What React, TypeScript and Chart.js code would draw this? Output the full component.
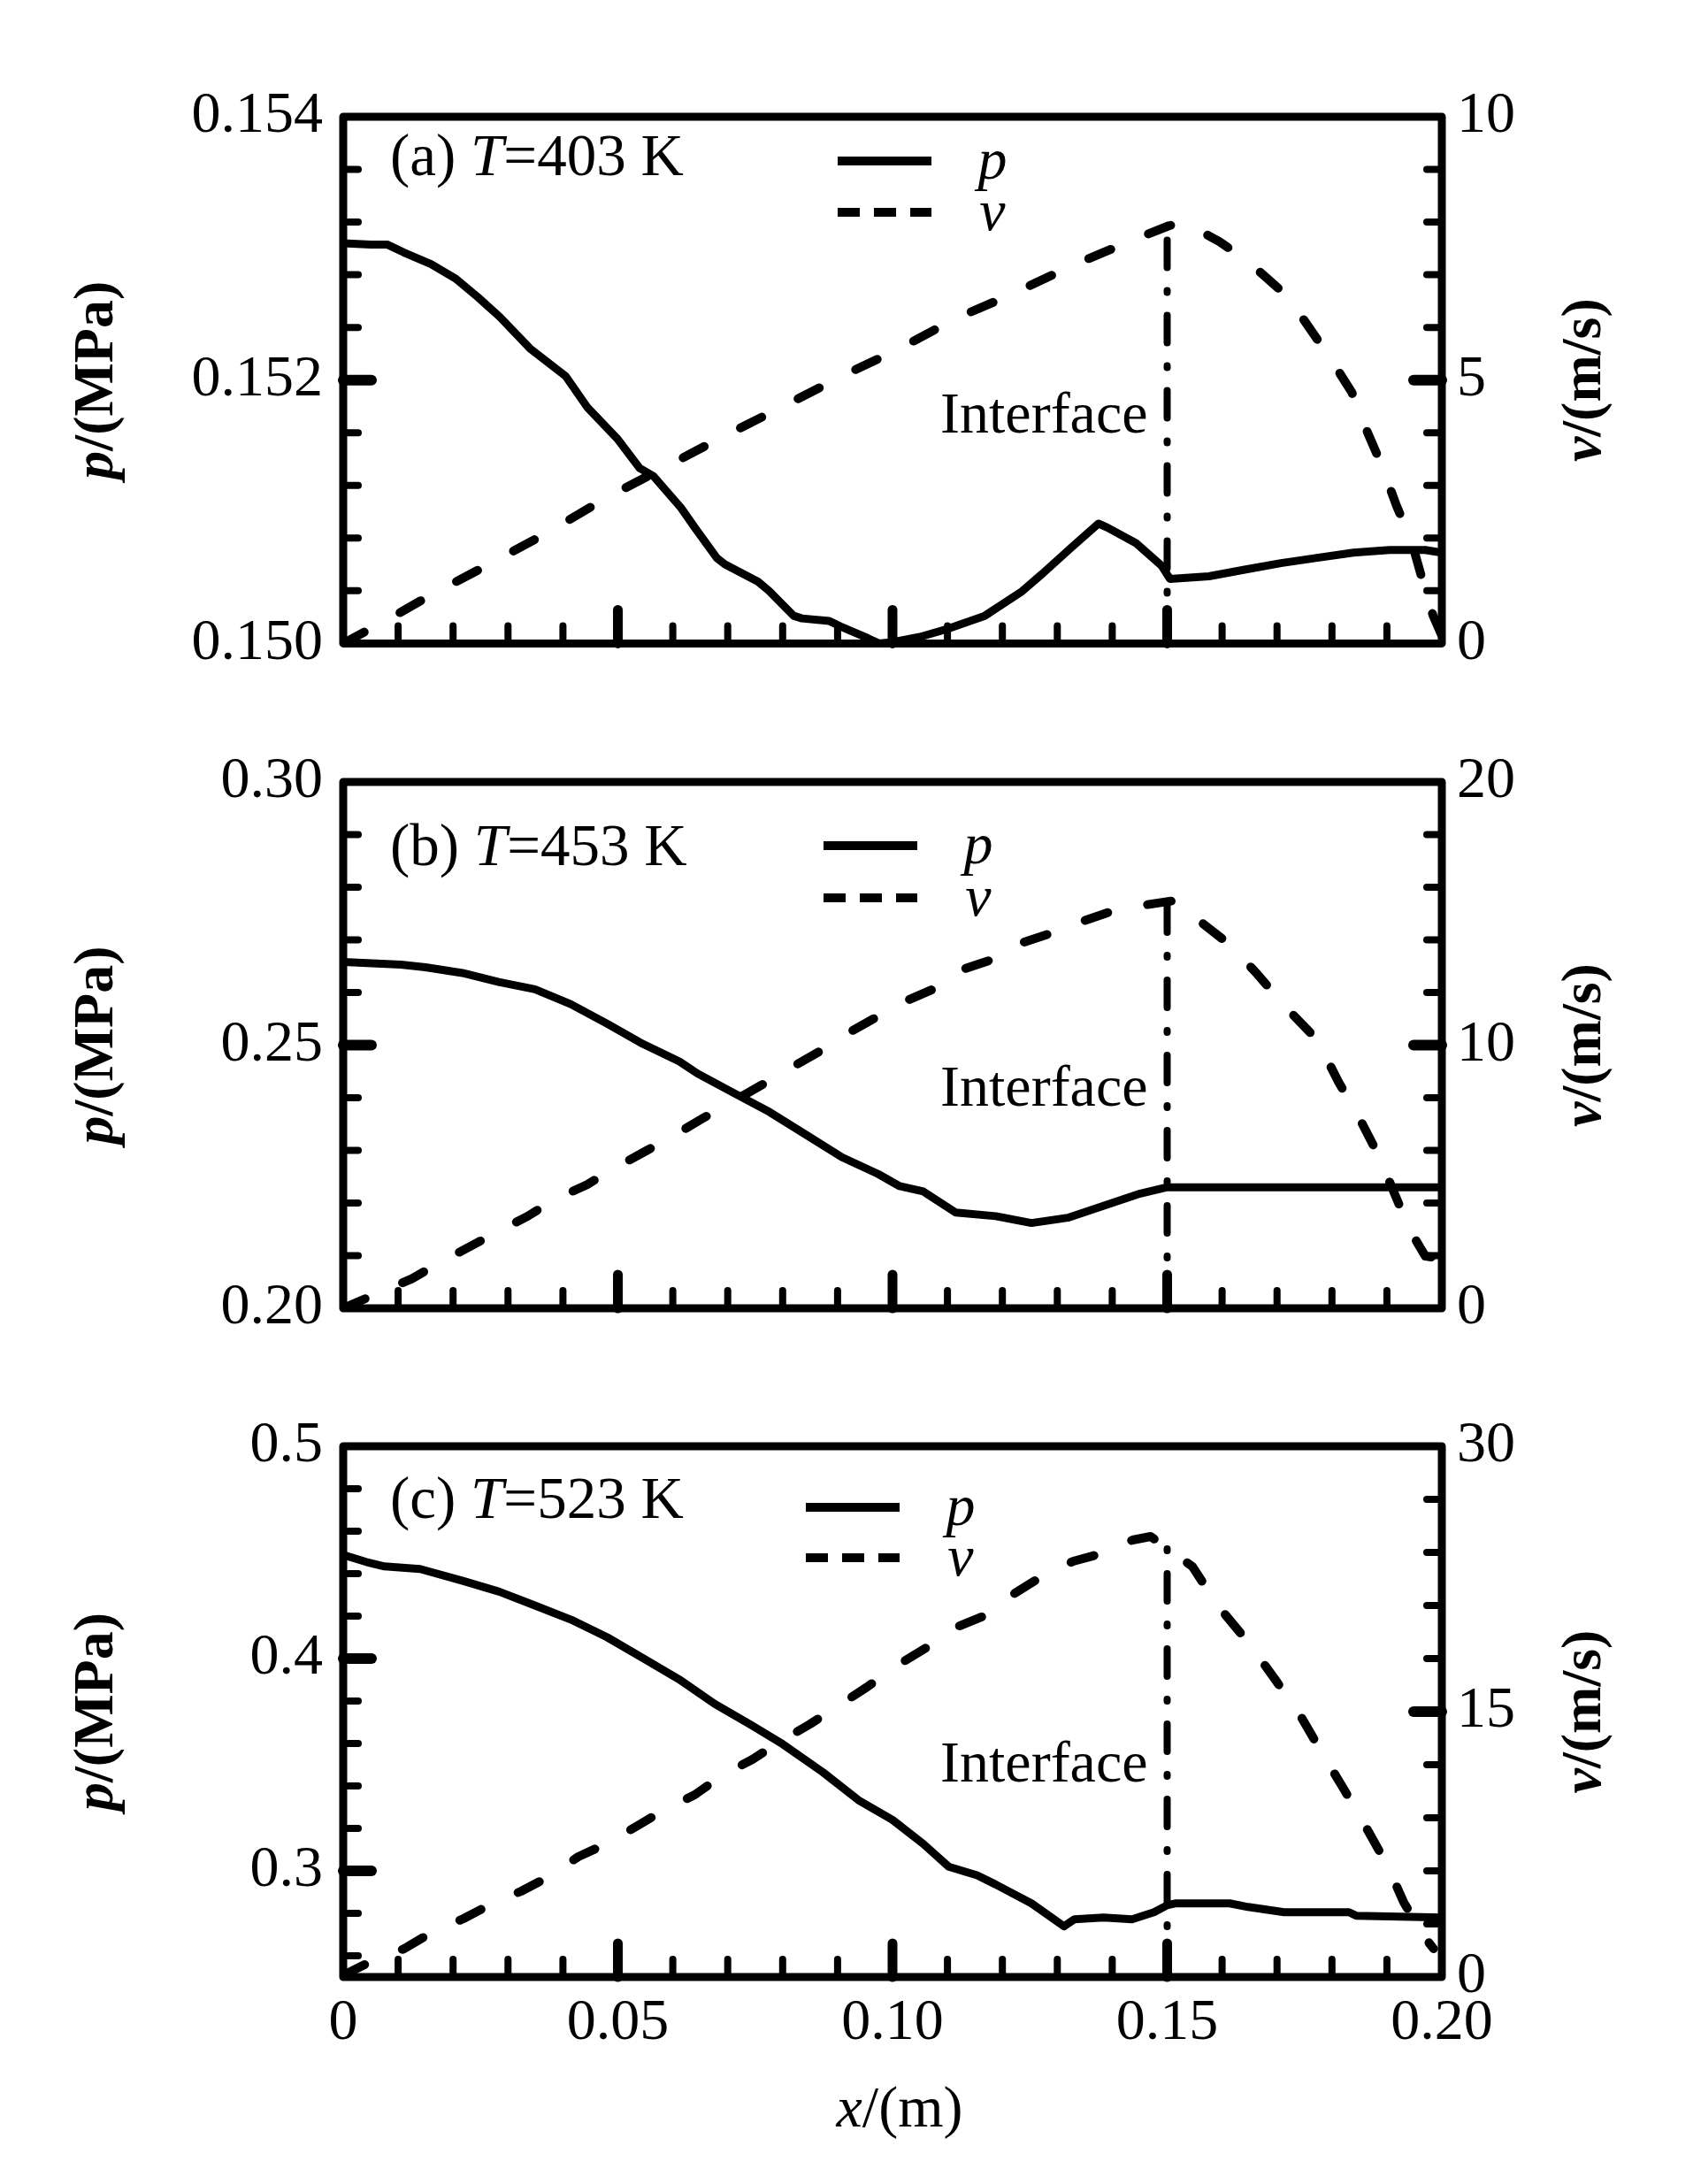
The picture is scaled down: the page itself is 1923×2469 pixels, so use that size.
import { useEffect, useRef } from "react";
import { Chart, registerables } from "chart.js";

Chart.register(...registerables);

const FONT = '"Liberation Serif", "Times New Roman", serif';
const W = 1923;

// ---- panel (a), T = 403 K ----
const X_P_A = [0, 0.005, 0.008, 0.011, 0.016, 0.0205, 0.0245, 0.0285, 0.034, 0.0405, 0.0445, 0.05, 0.054, 0.0565, 0.0615, 0.064, 0.068, 0.0695, 0.0755, 0.0775, 0.082, 0.0835, 0.0885, 0.0905, 0.0955, 0.0975, 0.1, 0.105, 0.11, 0.1168, 0.1234, 0.1273, 0.1326, 0.1375, 0.1391, 0.1444, 0.149, 0.1505, 0.1576, 0.1641, 0.1707, 0.1773, 0.1839, 0.1905, 0.197, 0.2];
const P_A = [0.15304, 0.15303, 0.15303, 0.15297, 0.15288, 0.15277, 0.15263, 0.15248, 0.15224, 0.15203, 0.15179, 0.15155, 0.15133, 0.15127, 0.15103, 0.15088, 0.15065, 0.1506, 0.15047, 0.1504, 0.15021, 0.15019, 0.15017, 0.15013, 0.15004, 0.15, 0.15001, 0.15005, 0.15011, 0.15021, 0.15039, 0.15053, 0.15073, 0.15091, 0.15088, 0.15076, 0.15059, 0.15049, 0.15051, 0.15056, 0.15061, 0.15065, 0.15069, 0.15071, 0.15071, 0.15069];
const X_V_A = [0, 0.0106, 0.0156, 0.0265, 0.0371, 0.048, 0.0583, 0.0692, 0.0801, 0.0907, 0.1013, 0.1115, 0.1217, 0.1326, 0.1431, 0.1503, 0.153, 0.1595, 0.1645, 0.1704, 0.1747, 0.1796, 0.1836, 0.1865, 0.1891, 0.1918, 0.1944, 0.1964, 0.1984, 0.2];
const V_A = [0, 0.6, 0.9, 1.5, 2.1, 2.77, 3.33, 3.93, 4.5, 5.07, 5.6, 6.17, 6.63, 7.17, 7.63, 7.93, 8.0, 7.63, 7.27, 6.73, 6.17, 5.43, 4.77, 4.0, 3.37, 2.6, 1.97, 1.23, 0.53, 0.15];

// ---- panel (b), T = 453 K ----
const X_P_B = [0, 0.0105, 0.015, 0.0217, 0.0283, 0.0349, 0.0414, 0.048, 0.0546, 0.0612, 0.0645, 0.0711, 0.0776, 0.0842, 0.0908, 0.0974, 0.1013, 0.1056, 0.1115, 0.1188, 0.1253, 0.1319, 0.1385, 0.1451, 0.15, 0.2];
const P_B = [0.2658, 0.2653, 0.2648, 0.2637, 0.262, 0.2606, 0.2578, 0.2541, 0.2502, 0.2469, 0.2446, 0.2409, 0.2373, 0.233, 0.2287, 0.2255, 0.2232, 0.2222, 0.2182, 0.2175, 0.2162, 0.2172, 0.2195, 0.2218, 0.223, 0.223];
const X_V_B = [0, 0.0066, 0.0125, 0.0174, 0.0234, 0.028, 0.0336, 0.0382, 0.0444, 0.049, 0.0553, 0.0599, 0.0658, 0.0704, 0.0763, 0.0812, 0.0868, 0.0914, 0.0974, 0.1016, 0.1082, 0.1131, 0.1188, 0.1237, 0.1296, 0.1345, 0.1401, 0.1451, 0.1516, 0.156, 0.1615, 0.1664, 0.172, 0.1773, 0.1812, 0.1848, 0.1885, 0.1911, 0.1941, 0.197, 0.2];
const V_B = [0, 0.6, 1.12, 1.72, 2.38, 2.9, 3.5, 4.1, 4.7, 5.28, 6.0, 6.53, 7.26, 7.79, 8.5, 9.1, 9.77, 10.4, 11.1, 11.6, 12.2, 12.9, 13.3, 13.9, 14.3, 14.7, 15.1, 15.3, 15.5, 14.7, 13.8, 12.7, 11.35, 10.2, 8.6, 7.3, 5.8, 4.5, 3.0, 1.98, 1.9];

// ---- panel (c), T = 523 K ----
const X_P_C = [0, 0.0042, 0.0075, 0.014, 0.0219, 0.0284, 0.035, 0.0415, 0.048, 0.0546, 0.0611, 0.0676, 0.0742, 0.08, 0.0873, 0.0938, 0.1, 0.1056, 0.1102, 0.1154, 0.1187, 0.1253, 0.1312, 0.1331, 0.1384, 0.1436, 0.1476, 0.15, 0.1516, 0.1614, 0.1647, 0.1713, 0.1831, 0.1844, 0.2];
const P_C = [0.4488, 0.4455, 0.4434, 0.4422, 0.4365, 0.4315, 0.4249, 0.4183, 0.4101, 0.4002, 0.3903, 0.3787, 0.3688, 0.3597, 0.3465, 0.3333, 0.324, 0.3127, 0.302, 0.2979, 0.2937, 0.2847, 0.2739, 0.2772, 0.278, 0.2772, 0.2805, 0.2838, 0.2847, 0.2847, 0.283, 0.2805, 0.2805, 0.2789, 0.278];
const X_V_C = [0, 0.0052, 0.0111, 0.016, 0.0219, 0.0268, 0.0324, 0.037, 0.0428, 0.0477, 0.0533, 0.0582, 0.064, 0.069, 0.0745, 0.0795, 0.085, 0.09, 0.0954, 0.1003, 0.1066, 0.1118, 0.1174, 0.1223, 0.128, 0.1329, 0.1388, 0.1437, 0.147, 0.1493, 0.1546, 0.1592, 0.1648, 0.1697, 0.1743, 0.1783, 0.1822, 0.1865, 0.1901, 0.1931, 0.197, 0.1985];
const V_C = [0.1, 0.9, 1.6, 2.5, 3.3, 4.1, 4.85, 5.6, 6.8, 7.5, 8.5, 9.4, 10.3, 11.4, 12.3, 13.3, 14.3, 15.3, 16.4, 17.5, 18.7, 19.8, 20.5, 21.7, 22.8, 23.5, 24.0, 24.7, 24.9, 24.4, 23.2, 21.0, 18.9, 16.8, 14.75, 12.6, 10.6, 8.3, 6.3, 4.2, 2.2, 1.6];

// ---- ticks / annotations ----
const X_TICKS = [0, 0.05, 0.1, 0.15, 0.2];
const P_TICKS_A = [0.15, 0.152, 0.154];
const V_TICKS_A = [0, 5, 10];
const P_TICKS_B = [0.2, 0.25, 0.3];
const V_TICKS_B = [0, 10, 20];
const P_TICKS_C = [0.3, 0.4, 0.5];
const V_TICKS_C = [0, 15, 30];
const INTERFACE_X = 0.15;
const INTERFACE_TOP = [7.95, 15.4, 24.5];
const TAGS = ["(a)", "(b)", "(c)"];
const TEMPS = ["403", "453", "523"];

interface Panel {
  tag: string;
  temp: string;
  xp: number[];
  p: number[];
  xv: number[];
  v: number[];
  pMin: number;
  pMax: number;
  pTicks: number[];
  pMinor: number;
  pDec: number;
  vMax: number;
  vTicks: number[];
  vMinor: number;
  ifaceTop: number;
  top: number;
  height: number;
  areaTop: number;
  areaBottom: number;
  showX: boolean;
  titleY: number;
  legendX: number;
  legendY: number;
  legendGap: number;
  ifaceY: number;
}

const PANELS: Panel[] = [
  {
    tag: TAGS[0], temp: TEMPS[0], xp: X_P_A, p: P_A, xv: X_V_A, v: V_A,
    pMin: 0.15, pMax: 0.154, pTicks: P_TICKS_A, pMinor: 0.0004, pDec: 3,
    vMax: 10, vTicks: V_TICKS_A, vMinor: 1, ifaceTop: INTERFACE_TOP[0],
    top: 0, height: 790, areaTop: 132, areaBottom: 734, showX: false,
    titleY: 66, legendX: 559, legendY: 50, legendGap: 58, ifaceY: 357,
  },
  {
    tag: TAGS[1], temp: TEMPS[1], xp: X_P_B, p: P_B, xv: X_V_B, v: V_B,
    pMin: 0.2, pMax: 0.3, pTicks: P_TICKS_B, pMinor: 0.01, pDec: 2,
    vMax: 20, vTicks: V_TICKS_B, vMinor: 2, ifaceTop: INTERFACE_TOP[1],
    top: 790, height: 760, areaTop: 94, areaBottom: 689, showX: false,
    titleY: 94, legendX: 543, legendY: 72, legendGap: 59, ifaceY: 366,
  },
  {
    tag: TAGS[2], temp: TEMPS[2], xp: X_P_C, p: P_C, xv: X_V_C, v: V_C,
    pMin: 0.25, pMax: 0.5, pTicks: P_TICKS_C, pMinor: 0.02, pDec: 1,
    vMax: 30, vTicks: V_TICKS_C, vMinor: 3, ifaceTop: INTERFACE_TOP[2],
    top: 1550, height: 919, areaTop: 85, areaBottom: 685, showX: true,
    titleY: 81, legendX: 523, legendY: 69, legendGap: 57, ifaceY: 379,
  },
];

type Run = [string, boolean];

function font(size: number, italic: boolean, bold = false) {
  return `${italic ? "italic " : ""}${bold ? "bold " : ""}${size}px ${FONT}`;
}

function drawRuns(ctx: CanvasRenderingContext2D, runs: Run[], x: number, y: number, size: number, align: "left" | "center", bold = false) {
  let total = 0;
  const widths = runs.map(([t, it]) => {
    ctx.font = font(size, it, bold);
    const w = ctx.measureText(t).width;
    total += w;
    return w;
  });
  let cx = align === "center" ? x - total / 2 : x;
  ctx.textAlign = "left";
  runs.forEach(([t, it], i) => {
    ctx.font = font(size, it, bold);
    ctx.fillText(t, cx, y);
    cx += widths[i];
  });
}

function minorTicks(min: number, max: number, step: number) {
  const out: number[] = [];
  const start = Math.ceil(min / step - 1e-6);
  const end = Math.floor(max / step + 1e-6);
  for (let i = start; i <= end; i++) out.push(i * step);
  return out;
}

function buildConfig(s: Panel): any {
  const deco = {
    id: "deco",
    afterDatasetsDraw(chart: any) {
      const { ctx, chartArea: a, scales } = chart;
      const xs = scales.x, yp = scales.yp, yv = scales.yv;
      ctx.save();
      ctx.strokeStyle = "#000";
      ctx.fillStyle = "#000";
      ctx.lineCap = "round";
      const line = (x1: number, y1: number, x2: number, y2: number, w: number) => {
        ctx.lineWidth = w;
        ctx.beginPath();
        ctx.moveTo(x1, y1);
        ctx.lineTo(x2, y2);
        ctx.stroke();
      };
      const isMajor = (t: number, majors: number[], step: number) => majors.some((m) => Math.abs(m - t) < step * 0.01);

      // inward ticks on bottom, left and right
      minorTicks(0, 0.2, 0.01).forEach((t) => {
        if (t < 1e-6 || t > 0.2 - 1e-6) return;
        const x = xs.getPixelForValue(t);
        const maj = isMajor(t, X_TICKS, 0.01);
        line(x, a.bottom, x, a.bottom - (maj ? 38 : 20), maj ? 11 : 8);
      });
      minorTicks(s.pMin, s.pMax, s.pMinor).forEach((t) => {
        if (Math.abs(t - s.pMin) < s.pMinor * 0.01 || Math.abs(t - s.pMax) < s.pMinor * 0.01) return;
        const y = yp.getPixelForValue(t);
        const maj = isMajor(t, s.pTicks, s.pMinor);
        line(a.left, y, a.left + (maj ? 32 : 17), y, maj ? 12 : 8);
      });
      minorTicks(0, s.vMax, s.vMinor).forEach((t) => {
        if (t < s.vMinor * 0.01 || t > s.vMax - s.vMinor * 0.01) return;
        const y = yv.getPixelForValue(t);
        const maj = isMajor(t, s.vTicks, s.vMinor);
        line(a.right, y, a.right - (maj ? 32 : 17), y, maj ? 12 : 8);
      });

      // frame
      ctx.lineCap = "butt";
      ctx.lineJoin = "round";
      ctx.lineWidth = 9;
      ctx.strokeRect(a.left, a.top, a.right - a.left, a.bottom - a.top);

      // panel title
      ctx.textBaseline = "alphabetic";
      drawRuns(ctx, [[s.tag + " ", false], ["T", true], ["=" + s.temp + " K", false]], a.left + 53, a.top + s.titleY, 67, "left");

      // legend
      const lx = a.left + s.legendX;
      const ly1 = a.top + s.legendY;
      const ly2 = ly1 + s.legendGap;
      ctx.lineCap = "butt";
      line(lx, ly1, lx + 106, ly1, 10);
      ctx.setLineDash([25, 16]);
      line(lx, ly2, lx + 106, ly2, 10);
      ctx.setLineDash([]);
      drawRuns(ctx, [["p", true]], lx + 175, ly1 + 20, 66, "center");
      drawRuns(ctx, [["v", true]], lx + 175, ly2 + 20, 66, "center");

      // interface label
      ctx.font = font(66, false);
      ctx.textAlign = "right";
      ctx.fillText("Interface", xs.getPixelForValue(INTERFACE_X) - 22, a.top + s.ifaceY);

      // axis titles
      const cy = (a.top + a.bottom) / 2;
      ctx.textBaseline = "middle";
      ctx.save();
      ctx.translate(110, cy);
      ctx.rotate(-Math.PI / 2);
      drawRuns(ctx, [["p", true], ["/(MPa)", false]], 0, 0, 64, "center", true);
      ctx.restore();
      ctx.save();
      ctx.translate(1792, cy);
      ctx.rotate(-Math.PI / 2);
      drawRuns(ctx, [["v", true], ["/(m/s)", false]], 0, 0, 64, "center", true);
      ctx.restore();
      if (s.showX) {
        drawRuns(ctx, [["x", true], ["/(m)", false]], (a.left + a.right) / 2 + 8, a.bottom + 152, 66, "center");
      }
      ctx.restore();
    },
  };

  const tickFont = { family: FONT, size: 66 };
  return {
    type: "line",
    data: {
      datasets: [
        {
          label: "p",
          data: s.xp.map((x, i) => ({ x, y: s.p[i] })),
          yAxisID: "yp",
          borderColor: "#000",
          borderWidth: 9,
          borderCapStyle: "round",
          borderJoinStyle: "round",
          pointRadius: 0,
          tension: 0,
          fill: false,
        },
        {
          label: "v",
          data: s.xv.map((x, i) => ({ x, y: s.v[i] })),
          yAxisID: "yv",
          borderColor: "#000",
          borderWidth: 10,
          borderDash: [27, 46],
          borderCapStyle: "round",
          borderJoinStyle: "round",
          pointRadius: 0,
          tension: 0,
          fill: false,
        },
        {
          label: "Interface",
          data: [
            { x: INTERFACE_X, y: 0 },
            { x: INTERFACE_X, y: s.ifaceTop },
          ],
          yAxisID: "yv",
          borderColor: "#000",
          borderWidth: 8,
          borderDash: [31, 26, 2, 26],
          borderCapStyle: "round",
          pointRadius: 0,
          fill: false,
        },
      ],
    },
    options: {
      responsive: false,
      animation: false,
      events: [],
      layout: { padding: { top: s.areaTop, left: 0, right: 0, bottom: 0 } },
      plugins: { legend: { display: false }, tooltip: { enabled: false } },
      scales: {
        x: {
          type: "linear",
          min: 0,
          max: 0.2,
          grid: { display: false, drawTicks: false },
          border: { display: false },
          afterBuildTicks: (sc: any) => {
            sc.ticks = X_TICKS.map((v) => ({ value: v }));
          },
          afterFit: (sc: any) => {
            sc.height = s.height - s.areaBottom;
          },
          ticks: {
            display: s.showX,
            color: "#000",
            font: tickFont,
            padding: 13,
            maxRotation: 0,
            autoSkip: false,
            callback: (v: any) => (Number(v) === 0 ? "0" : Number(v).toFixed(2)),
          },
        },
        yp: {
          type: "linear",
          position: "left",
          min: s.pMin,
          max: s.pMax,
          grid: { display: false, drawTicks: false },
          border: { display: false },
          afterBuildTicks: (sc: any) => {
            sc.ticks = s.pTicks.map((v) => ({ value: v }));
          },
          afterFit: (sc: any) => {
            sc.width = 388;
          },
          ticks: {
            color: "#000",
            font: tickFont,
            padding: 23,
            autoSkip: false,
            callback: (v: any) => Number(v).toFixed(s.pDec),
          },
        },
        yv: {
          type: "linear",
          position: "right",
          min: 0,
          max: s.vMax,
          grid: { display: false, drawTicks: false },
          border: { display: false },
          afterBuildTicks: (sc: any) => {
            sc.ticks = s.vTicks.map((v) => ({ value: v }));
          },
          afterFit: (sc: any) => {
            sc.width = W - 1630;
          },
          ticks: {
            color: "#000",
            font: tickFont,
            padding: 17,
            autoSkip: false,
            callback: (v: any) => String(Number(v)),
          },
        },
      },
    },
    plugins: [deco],
  };
}

function PanelChart({ spec }: { spec: Panel }) {
  const canvasRef = useRef<HTMLCanvasElement | null>(null);

  useEffect(() => {
    if (!canvasRef.current) return;
    const chart = new Chart(canvasRef.current, buildConfig(spec));
    return () => {
      chart.destroy();
    };
  }, [spec]);

  return (
    <canvas
      ref={canvasRef}
      width={W}
      height={spec.height}
      style={{ position: "absolute", left: 0, top: spec.top, width: W, height: spec.height }}
    />
  );
}

export default function App() {
  return (
    <div style={{ position: "absolute", left: 0, top: 0, width: W, height: 2469, background: "#fff" }}>
      {PANELS.map((spec) => (
        <PanelChart key={spec.tag} spec={spec} />
      ))}
    </div>
  );
}
